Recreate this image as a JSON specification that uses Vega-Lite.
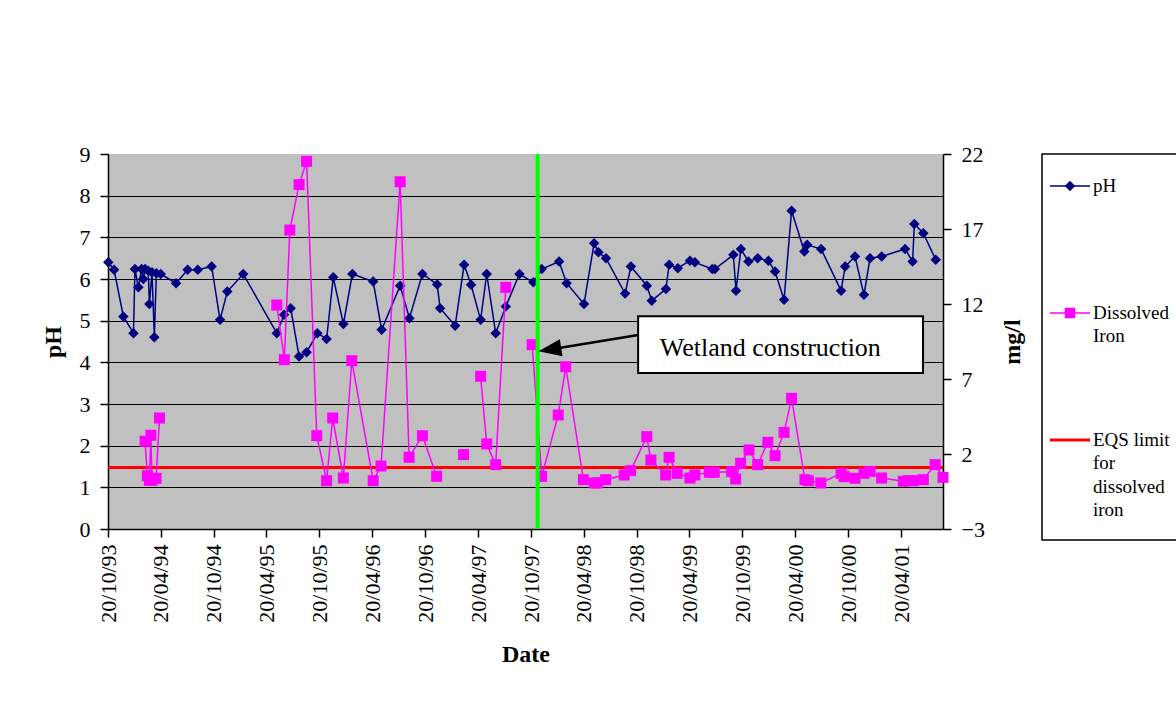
{
 "$schema": "https://vega.github.io/schema/vega-lite/v6.json",
 "background": "white",
 "padding": {"left": 41, "top": 143, "right": 0, "bottom": 0},
 "spacing": 16,
 "datasets": {
  "ph": [
   {"date":"1993-10-21","pH":6.40},{"date":"1993-11-10","pH":6.22},{"date":"1993-12-12","pH":5.10},{"date":"1994-01-16","pH":4.70},
   {"date":"1994-01-21","pH":6.24},{"date":"1994-02-02","pH":5.80},{"date":"1994-02-13","pH":6.24},{"date":"1994-02-19","pH":6.00},
   {"date":"1994-02-25","pH":6.24},{"date":"1994-03-08","pH":6.20},{"date":"1994-03-12","pH":5.40},{"date":"1994-03-21","pH":6.16},
   {"date":"1994-03-29","pH":4.60},{"date":"1994-04-05","pH":6.14},{"date":"1994-04-20","pH":6.12},{"date":"1994-06-12","pH":5.90},
   {"date":"1994-07-22","pH":6.22},{"date":"1994-08-26","pH":6.22},{"date":"1994-10-13","pH":6.30},{"date":"1994-11-11","pH":5.02},
   {"date":"1994-12-06","pH":5.70},{"date":"1995-01-30","pH":6.12},{"date":"1995-05-26","pH":4.70},{"date":"1995-06-20","pH":5.14},
   {"date":"1995-07-13","pH":5.30},{"date":"1995-08-11","pH":4.14},{"date":"1995-09-06","pH":4.24},{"date":"1995-10-13","pH":4.70},
   {"date":"1995-11-14","pH":4.56},{"date":"1995-12-07","pH":6.04},{"date":"1996-01-11","pH":4.92},{"date":"1996-02-11","pH":6.12},
   {"date":"1996-04-23","pH":5.94},{"date":"1996-05-22","pH":4.78},{"date":"1996-07-25","pH":5.84},{"date":"1996-08-26","pH":5.06},
   {"date":"1996-10-10","pH":6.12},{"date":"1996-11-30","pH":5.87},{"date":"1996-12-10","pH":5.30},{"date":"1997-01-31","pH":4.88},
   {"date":"1997-03-03","pH":6.34},{"date":"1997-03-27","pH":5.86},{"date":"1997-04-29","pH":5.02},{"date":"1997-05-20","pH":6.12},
   {"date":"1997-06-20","pH":4.70},{"date":"1997-07-25","pH":5.34},{"date":"1997-09-10","pH":6.12},{"date":"1997-10-28","pH":5.92},
   {"date":"1997-11-26","pH":6.24},{"date":"1998-01-25","pH":6.42},{"date":"1998-02-20","pH":5.90},{"date":"1998-04-21","pH":5.40},
   {"date":"1998-05-26","pH":6.86},{"date":"1998-06-10","pH":6.64},{"date":"1998-07-06","pH":6.50},{"date":"1998-09-10","pH":5.65},
   {"date":"1998-09-30","pH":6.30},{"date":"1998-11-24","pH":5.84},{"date":"1998-12-11","pH":5.48},{"date":"1999-01-29","pH":5.76},
   {"date":"1999-02-09","pH":6.34},{"date":"1999-03-11","pH":6.26},{"date":"1999-04-22","pH":6.44},{"date":"1999-05-09","pH":6.40},
   {"date":"1999-07-08","pH":6.24},{"date":"1999-07-17","pH":6.24},{"date":"1999-09-19","pH":6.58},{"date":"1999-09-28","pH":5.72},
   {"date":"1999-10-15","pH":6.72},{"date":"1999-11-10","pH":6.42},{"date":"1999-12-12","pH":6.50},{"date":"2000-01-18","pH":6.44},
   {"date":"2000-02-10","pH":6.18},{"date":"2000-03-12","pH":5.50},{"date":"2000-04-07","pH":7.64},{"date":"2000-05-21","pH":6.66},
   {"date":"2000-05-31","pH":6.82},{"date":"2000-07-18","pH":6.72},{"date":"2000-09-25","pH":5.72},{"date":"2000-10-09","pH":6.30},
   {"date":"2000-11-12","pH":6.54},{"date":"2000-12-13","pH":5.62},{"date":"2001-01-03","pH":6.50},{"date":"2001-02-12","pH":6.54},
   {"date":"2001-05-04","pH":6.72},{"date":"2001-05-30","pH":6.42},{"date":"2001-06-05","pH":7.32},{"date":"2001-07-06","pH":7.10},
   {"date":"2001-08-18","pH":6.46}
  ],
  "iron": [
   {"date":"1994-02-25","iron":2.85},{"date":"1994-03-05","iron":0.55},{"date":"1994-03-12","iron":0.25},{"date":"1994-03-17","iron":3.25},
   {"date":"1994-03-21","iron":0.25},{"date":"1994-04-04","iron":0.38},{"date":"1994-04-16","iron":4.40},{"date":"1994-10-01","iron":null},
   {"date":"1995-05-26","iron":11.93},{"date":"1995-06-21","iron":8.29},{"date":"1995-07-10","iron":16.93},{"date":"1995-08-11","iron":19.96},
   {"date":"1995-09-06","iron":21.51},{"date":"1995-10-11","iron":3.22},{"date":"1995-11-14","iron":0.22},{"date":"1995-12-05","iron":4.40},
   {"date":"1996-01-11","iron":0.40},{"date":"1996-02-09","iron":8.22},{"date":"1996-04-23","iron":0.22},{"date":"1996-05-20","iron":1.20},
   {"date":"1996-07-25","iron":20.15},{"date":"1996-08-25","iron":1.78},{"date":"1996-10-10","iron":3.22},{"date":"1996-11-28","iron":0.51},
   {"date":"1997-01-15","iron":null},{"date":"1997-03-01","iron":1.96},{"date":"1997-04-01","iron":null},{"date":"1997-04-29","iron":7.18},
   {"date":"1997-05-20","iron":2.67},{"date":"1997-06-20","iron":1.29},{"date":"1997-07-25","iron":13.11},{"date":"1997-09-30","iron":null},
   {"date":"1997-10-24","iron":9.29},{"date":"1997-11-26","iron":0.51},{"date":"1998-01-22","iron":4.60},{"date":"1998-02-17","iron":7.82},
   {"date":"1998-04-19","iron":0.29},{"date":"1998-05-27","iron":0.07},{"date":"1998-06-07","iron":0.07},{"date":"1998-07-05","iron":0.29},
   {"date":"1998-09-07","iron":0.60},{"date":"1998-09-29","iron":0.89},{"date":"1998-11-24","iron":3.16},{"date":"1998-12-08","iron":1.60},
   {"date":"1999-01-28","iron":0.60},{"date":"1999-02-09","iron":1.78},{"date":"1999-03-09","iron":0.71},{"date":"1999-04-22","iron":0.40},
   {"date":"1999-05-09","iron":0.60},{"date":"1999-06-28","iron":0.78},{"date":"1999-07-15","iron":0.78},{"date":"1999-09-13","iron":0.82},
   {"date":"1999-09-27","iron":0.33},{"date":"1999-10-14","iron":1.38},{"date":"1999-11-12","iron":2.27},{"date":"1999-12-12","iron":1.29},
   {"date":"2000-01-16","iron":2.78},{"date":"2000-02-10","iron":1.89},{"date":"2000-03-12","iron":3.44},{"date":"2000-04-07","iron":5.71},
   {"date":"2000-05-23","iron":0.29},{"date":"2000-06-04","iron":0.22},{"date":"2000-07-17","iron":0.07},{"date":"2000-09-25","iron":0.71},
   {"date":"2000-10-06","iron":0.49},{"date":"2000-11-12","iron":0.38},{"date":"2000-12-13","iron":0.71},{"date":"2001-01-03","iron":0.84},
   {"date":"2001-02-12","iron":0.40},{"date":"2001-04-28","iron":0.18},{"date":"2001-05-15","iron":0.22},{"date":"2001-06-02","iron":0.22},
   {"date":"2001-07-06","iron":0.29},{"date":"2001-08-16","iron":1.29},{"date":"2001-09-12","iron":0.44}
  ],
  "limit": [{"limit": 1.1}],
  "event": [{"event": "Wetland construction", "date": "1997-11-12"}],
  "legend": [
   {"series": "pH", "label": "pH"},
   {"series": "Dissolved Iron", "label": "Dissolved\nIron"},
   {"series": "EQS limit for dissolved iron", "label": "EQS limit\nfor\ndissolved\niron"}
  ]
 },
 "hconcat": [
  {
   "width": 835,
   "height": 375,
   "view": {"fill": "#C0C0C0", "stroke": null},
   "layer": [
    {
     "layer": [
      {
       "data": {"name": "ph"},
       "mark": {"type": "line", "color": "#000080", "strokeWidth": 1.5},
       "encoding": {
        "x": {
         "field": "date", "type": "temporal",
         "scale": {"type": "utc", "domain": [{"year": 1993, "month": 10, "date": 20, "utc": true}, {"year": 2001, "month": 9, "date": 12, "utc": true}]},
         "axis": {
          "title": "Date",
          "values": [
           {"year": 1993, "month": 10, "date": 20, "utc": true}, {"year": 1994, "month": 4, "date": 20, "utc": true},
           {"year": 1994, "month": 10, "date": 20, "utc": true}, {"year": 1995, "month": 4, "date": 20, "utc": true},
           {"year": 1995, "month": 10, "date": 20, "utc": true}, {"year": 1996, "month": 4, "date": 20, "utc": true},
           {"year": 1996, "month": 10, "date": 20, "utc": true}, {"year": 1997, "month": 4, "date": 20, "utc": true},
           {"year": 1997, "month": 10, "date": 20, "utc": true}, {"year": 1998, "month": 4, "date": 20, "utc": true},
           {"year": 1998, "month": 10, "date": 20, "utc": true}, {"year": 1999, "month": 4, "date": 20, "utc": true},
           {"year": 1999, "month": 10, "date": 20, "utc": true}, {"year": 2000, "month": 4, "date": 20, "utc": true},
           {"year": 2000, "month": 10, "date": 20, "utc": true}, {"year": 2001, "month": 4, "date": 20, "utc": true}
          ],
          "labelExpr": "utcFormat(datum.value, '%d/%m/%y')",
          "labelFont": "Liberation Serif",
          "labelAngle": -90, "labelAlign": "right", "labelBaseline": "middle",
          "labelPadding": 7, "labelFlush": false, "labelOverlap": false,
          "grid": false, "titlePadding": 20
         }
        },
        "y": {
         "field": "pH", "type": "quantitative",
         "scale": {"domain": [0, 9], "nice": false, "zero": false},
         "axis": {
          "title": "pH", "values": [0, 1, 2, 3, 4, 5, 6, 7, 8, 9],
          "labelFont": "Liberation Serif",
          "grid": true,
          "gridColor": {"condition": {"test": "datum.value === 0 || datum.value === 9", "value": "transparent"}, "value": "black"},
          "gridWidth": 1, "labelPadding": 10, "titlePadding": 14
         }
        }
       }
      },
      {
       "data": {"name": "ph"},
       "mark": {"type": "point", "shape": "diamond", "filled": true, "color": "#000080", "size": 110, "opacity": 1},
       "encoding": {
        "x": {"field": "date", "type": "temporal"},
        "y": {"field": "pH", "type": "quantitative"}
       }
      }
     ]
    },
    {
     "layer": [
      {
       "data": {"name": "limit"},
       "mark": {"type": "rule", "color": "#FF0000", "strokeWidth": 3},
       "encoding": {"y": {"field": "limit", "type": "quantitative", "title": "mg/l"}}
      },
      {
       "data": {"name": "iron"},
       "mark": {"type": "line", "color": "#FF00FF", "strokeWidth": 1.5},
       "encoding": {
        "x": {"field": "date", "type": "temporal"},
        "y": {
         "field": "iron", "type": "quantitative", "title": "mg/l",
         "scale": {"domain": [-3, 22], "nice": false, "zero": false},
         "axis": {"orient": "right", "values": [-3, 2, 7, 12, 17, 22], "labelFont": "Liberation Serif", "grid": false, "labelPadding": 10, "titlePadding": 16, "titleAngle": 270, "titleBaseline": "top"}
        }
       }
      },
      {
       "data": {"name": "iron"},
       "mark": {"type": "point", "shape": "square", "filled": true, "color": "#FF00FF", "size": 121, "opacity": 1},
       "encoding": {
        "x": {"field": "date", "type": "temporal"},
        "y": {"field": "iron", "type": "quantitative", "title": "mg/l"}
       }
      },
      {
       "data": {"name": "event"},
       "mark": {"type": "rule", "color": "#00FF00", "strokeWidth": 4},
       "encoding": {"x": {"field": "date", "type": "temporal"}}
      },
      {
       "data": {"name": "event"},
       "mark": {"type": "rect", "fill": "white", "stroke": "black", "strokeWidth": 2},
       "encoding": {
        "x": {"datum": {"year": 1998, "month": 10, "date": 25, "utc": true}, "type": "temporal"},
        "x2": {"datum": {"year": 2001, "month": 7, "date": 5, "utc": true}},
        "y": {"datum": 11.18, "type": "quantitative"},
        "y2": {"datum": 7.4}
       }
      },
      {
       "data": {"name": "event"},
       "mark": {"type": "text", "align": "left", "baseline": "alphabetic", "fontSize": 26, "font": "Liberation Serif", "color": "black"},
       "encoding": {
        "x": {"datum": {"year": 1999, "month": 1, "date": 8, "utc": true}, "type": "temporal"},
        "y": {"datum": 8.55, "type": "quantitative"},
        "text": {"field": "event"}
       }
      },
      {
       "data": {"name": "event"},
       "mark": {"type": "rule", "color": "black", "strokeWidth": 2.5},
       "encoding": {
        "x": {"datum": {"year": 1998, "month": 10, "date": 25, "utc": true}, "type": "temporal"},
        "x2": {"datum": {"year": 1997, "month": 12, "date": 24, "utc": true}},
        "y": {"datum": 9.93, "type": "quantitative"},
        "y2": {"datum": 8.97}
       }
      },
      {
       "data": {"name": "event"},
       "mark": {"type": "point", "shape": "M-1,0L1,-0.75L1,0.75Z", "filled": true, "color": "black", "size": 529, "angle": -9, "opacity": 1},
       "encoding": {
        "x": {"datum": {"year": 1997, "month": 12, "date": 24, "utc": true}, "type": "temporal"},
        "y": {"datum": 8.97, "type": "quantitative"}
       }
      }
     ]
    }
   ],
   "resolve": {"scale": {"y": "independent"}}
  },
  {
   "width": 140,
   "height": 386,
   "view": {"fill": "white", "stroke": "black", "strokeWidth": 1.5},
   "data": {"name": "legend"},
   "layer": [
    {
     "transform": [{"filter": "datum.series !== 'EQS limit for dissolved iron'"}],
     "mark": {"type": "rule", "strokeWidth": 1.5},
     "encoding": {
      "x": {"datum": 0, "type": "quantitative", "scale": {"domain": [0, 1], "range": [8, 48]}, "axis": null},
      "x2": {"datum": 1},
      "y": {"field": "series", "type": "nominal", "scale": {"type": "point", "padding": 0, "domain": ["pH", "Dissolved Iron", "EQS limit for dissolved iron"], "range": [32, 286]}, "axis": null},
      "color": {"field": "series", "type": "nominal", "scale": {"domain": ["pH", "Dissolved Iron", "EQS limit for dissolved iron"], "range": ["#000080", "#FF00FF", "#FF0000"]}, "legend": null}
     }
    },
    {
     "transform": [{"filter": "datum.series === 'EQS limit for dissolved iron'"}],
     "mark": {"type": "rule", "strokeWidth": 3},
     "encoding": {
      "x": {"datum": 0, "type": "quantitative"},
      "x2": {"datum": 1},
      "y": {"field": "series", "type": "nominal"},
      "color": {"field": "series", "type": "nominal", "legend": null}
     }
    },
    {
     "transform": [{"filter": "datum.series !== 'EQS limit for dissolved iron'"}],
     "mark": {"type": "point", "filled": true, "size": 110, "opacity": 1},
     "encoding": {
      "x": {"datum": 0.5, "type": "quantitative"},
      "y": {"field": "series", "type": "nominal"},
      "color": {"field": "series", "type": "nominal", "legend": null},
      "shape": {"field": "series", "type": "nominal", "scale": {"domain": ["pH", "Dissolved Iron"], "range": ["diamond", "square"]}, "legend": null}
     }
    },
    {
     "mark": {"type": "text", "align": "left", "baseline": "alphabetic", "dx": 3, "dy": 6, "fontSize": 19, "font": "Liberation Serif", "lineBreak": "\n", "lineHeight": 23.3, "color": "black"},
     "encoding": {
      "x": {"datum": 1, "type": "quantitative"},
      "y": {"field": "series", "type": "nominal"},
      "text": {"field": "label"}
     }
    }
   ]
  }
 ],
 "resolve": {"scale": {"x": "independent", "y": "independent", "color": "independent", "shape": "independent"}},
 "config": {
  "font": "Liberation Serif",
  "legend": {"disable": true},
  "style": {"guide-label": {"font": "Liberation Serif"}, "guide-title": {"font": "Liberation Serif"}},
  "axis": {
   "labelFont": "Liberation Serif", "titleFont": "Liberation Serif",
   "labelColor": "black", "titleColor": "black", "tickColor": "black", "domainColor": "black",
   "labelFontSize": 22, "titleFontSize": 24, "titleFontWeight": "bold",
   "tickSize": 8, "domainWidth": 1.5, "tickWidth": 1.5
  }
 }
}
